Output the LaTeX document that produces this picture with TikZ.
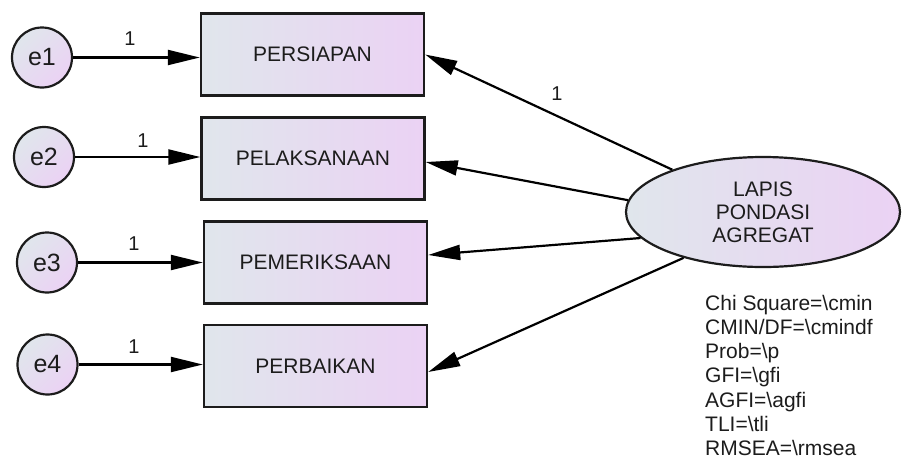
\documentclass[tikz,border=0pt]{standalone}
\usepackage{fontspec}
\setmainfont{Liberation Sans}
\usetikzlibrary{arrows.meta,shapes.geometric,calc}
\definecolor{fillL}{RGB}{224,230,236}
\definecolor{fillR}{RGB}{235,210,244}
\definecolor{ink}{RGB}{28,28,28}
\begin{document}
\begin{tikzpicture}[x=1pt,y=-1pt,
  obs/.style={rectangle, draw=ink, line width=2.4pt, left color=fillL, right color=fillR,
    minimum width=223pt, minimum height=82pt, inner sep=0pt,
    font=\fontsize{21}{24}\selectfont, text=ink},
  err/.style={circle, draw=ink, line width=2.2pt, top color=fillL, bottom color=fillR,
    shading angle=45, minimum size=60pt, inner sep=0pt,
    font=\fontsize{25}{28}\selectfont, text=ink},
  latent/.style={ellipse, draw=ink, line width=2.2pt, left color=fillL, right color=fillR,
    minimum width=274pt, minimum height=110pt, inner sep=0pt, align=center,
    font=\fontsize{21}{23}\selectfont, text=ink},
  reg/.style={draw=black, line width=2.2pt, -{Triangle[length=32pt,width=15pt]}},
  wt/.style={font=\fontsize{20}{22}\selectfont, text=ink, inner sep=0pt},
  stat/.style={anchor=base west, inner sep=0pt, font=\fontsize{21}{24}\selectfont, text=ink}
]
\useasboundingbox (0,0) rectangle (904,461);

% observed indicators
\node[obs] (b1) at (312.5,54.5) {PERSIAPAN};
\node[obs] (b2) at (313,158.5) {PELAKSANAAN};
\node[obs] (b3) at (315.5,262.5) {PEMERIKSAAN};
\node[obs] (b4) at (315.5,366) {PERBAIKAN};

% error terms
\node[err] (e1) at (42,57.5) {e1};
\node[err] (e2) at (44,157) {e2};
\node[err] (e3) at (47,262.5) {e3};
\node[err] (e4) at (47.5,364.5) {e4};

% latent construct
\node[latent] (lat) at (763,212) {LAPIS\\PONDASI\\AGREGAT};

% error paths
\draw[reg] (e1.east) -- (e1.east -| b1.west);
\draw[reg] (e2.east) -- (e2.east -| b2.west);
\draw[reg] (e3.east) -- (e3.east -| b3.west);
\draw[reg] (e4.east) -- (e4.east -| b4.west);

% loadings
\draw[reg] (lat.155.7) -- (b1.east);
\draw[reg] (lat.175) -- ($(b2.east)+(0,3.5)$);
\draw[reg] (lat.192.5) -- ($(b3.east)+(0,-7.5)$);
\draw[reg] (lat.210) -- ($(b4.east)+(0,6)$);

% fixed weights
\node[wt] (w1) at (130,39) {1};
\node[wt] (w2) at (143,141) {1};
\node[wt] (w3) at (134,244) {1};
\node[wt] (w4) at (134,347) {1};
\node[wt] (w5) at (557,94) {1};

% fit statistics
\node[stat] (s1) at (705,310) {Chi Square=\textbackslash cmin};
\node[stat] (s2) at (705,334.3) {CMIN/DF=\textbackslash cmindf};
\node[stat] (s3) at (705,358.6) {Prob=\textbackslash p};
\node[stat] (s4) at (705,382.9) {GFI=\textbackslash gfi};
\node[stat] (s5) at (705,407.2) {AGFI=\textbackslash agfi};
\node[stat] (s6) at (705,431.5) {TLI=\textbackslash tli};
\node[stat] (s7) at (705,455.8) {RMSEA=\textbackslash rmsea};
\end{tikzpicture}
\end{document}
